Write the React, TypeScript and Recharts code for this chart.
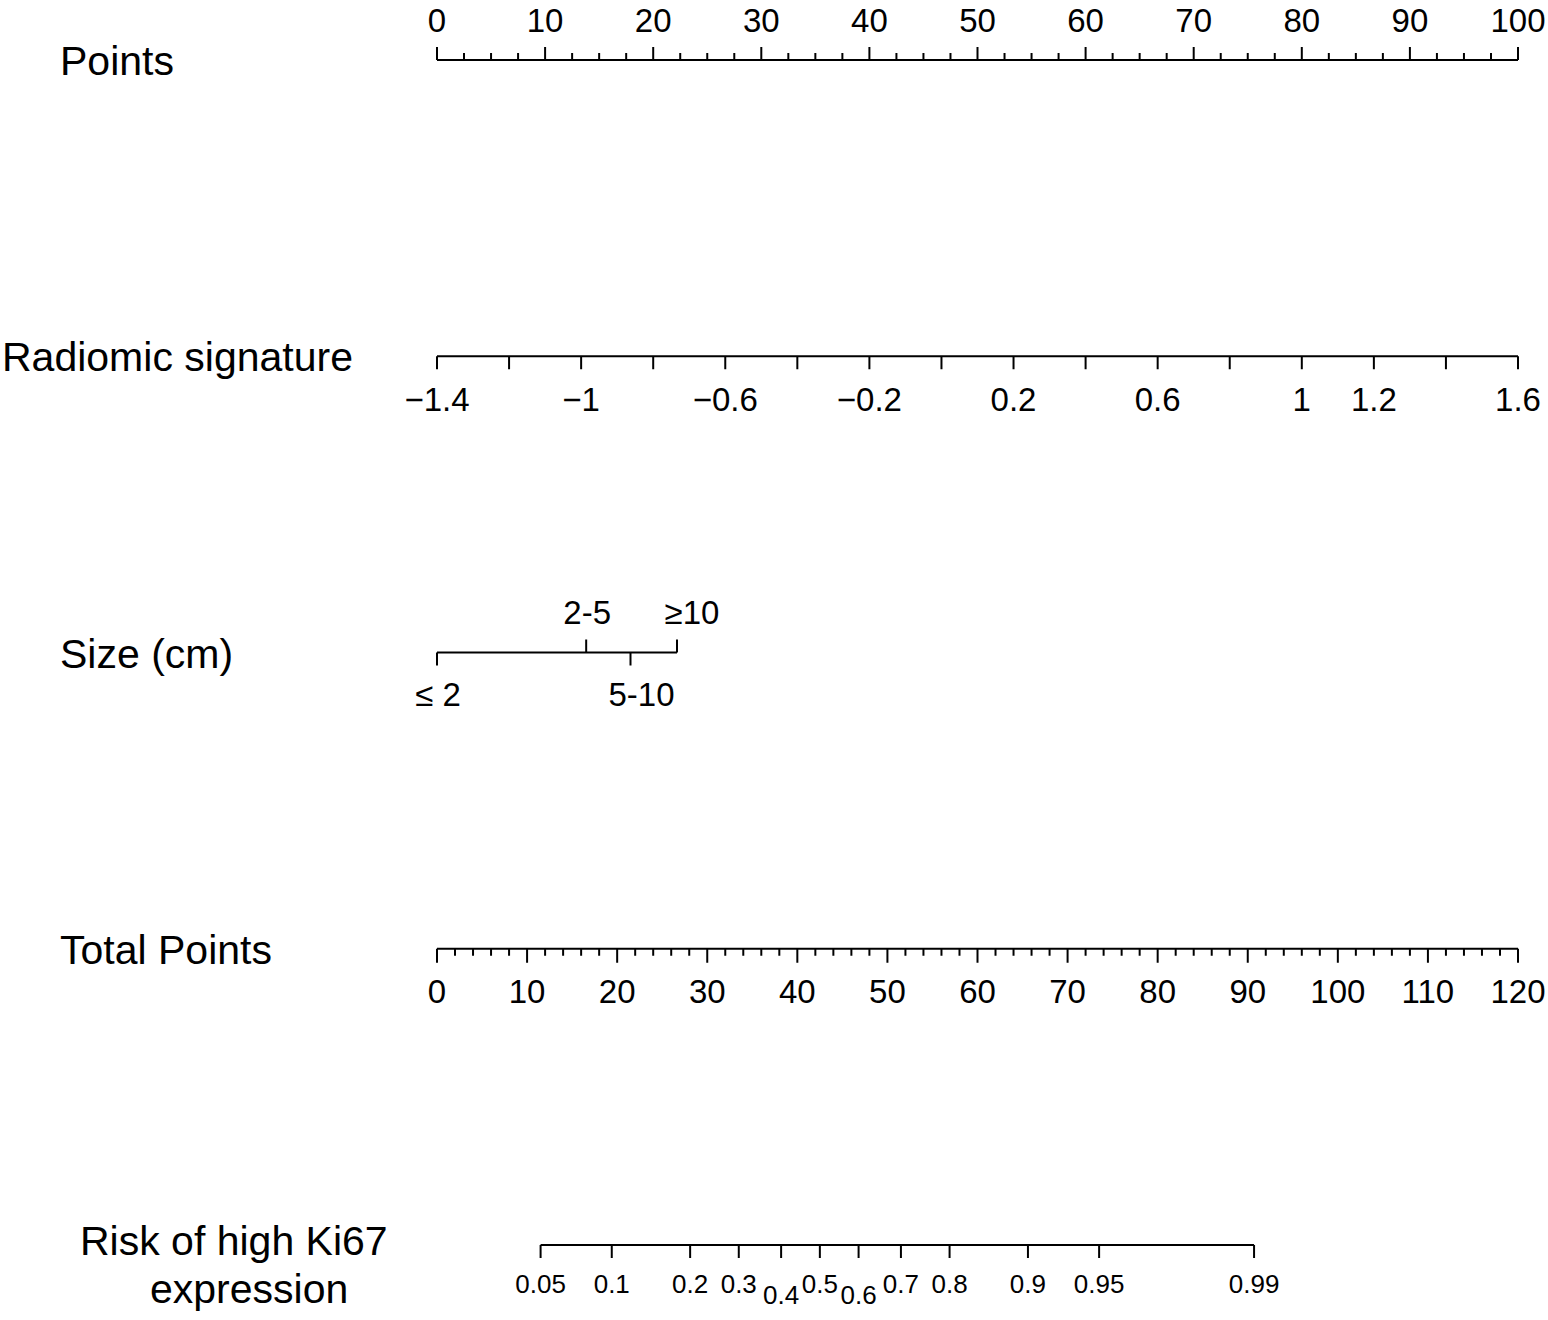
import { ComposedChart, Line, Scatter, XAxis, YAxis } from 'recharts';

// row titles, top to bottom
const rowNames = ['Points', 'Radiomic signature', 'Size (cm)', 'Total Points', 'Risk of high Ki67\nexpression'];

// Points scale (0-100)
const pointsTicks = [
  0, 2.5, 5, 7.5, 10, 12.5, 15, 17.5, 20, 22.5, 25, 27.5, 30, 32.5, 35, 37.5, 40, 42.5, 45, 47.5, 50,
  52.5, 55, 57.5, 60, 62.5, 65, 67.5, 70, 72.5, 75, 77.5, 80, 82.5, 85, 87.5, 90, 92.5, 95, 97.5, 100,
];
const pointsLabels = [0, 10, 20, 30, 40, 50, 60, 70, 80, 90, 100];

// Radiomic signature
const radiomicTicks = [-1.4, -1.2, -1, -0.8, -0.6, -0.4, -0.2, 0, 0.2, 0.4, 0.6, 0.8, 1, 1.2, 1.4, 1.6];
const radiomicLabels = [-1.4, -1, -0.6, -0.2, 0.2, 0.6, 1, 1.2, 1.6];

// Size (cm) levels and the points each one is worth
const sizeLevels = ['≤ 2', '2-5', '5-10', '≥10'];
const sizePoints = [0, 13.8, 17.9, 22.2];

// Total points scale (0-120)
const totalTicks = [
  0, 2, 4, 6, 8, 10, 12, 14, 16, 18, 20, 22, 24, 26, 28, 30, 32, 34, 36, 38, 40, 42, 44, 46, 48, 50,
  52, 54, 56, 58, 60, 62, 64, 66, 68, 70, 72, 74, 76, 78, 80, 82, 84, 86, 88, 90, 92, 94, 96, 98, 100,
  102, 104, 106, 108, 110, 112, 114, 116, 118, 120,
];
const totalLabels = [0, 10, 20, 30, 40, 50, 60, 70, 80, 90, 100, 110, 120];

// Risk of high Ki67 expression, placed on the total points scale
const riskLevels = ['0.05', '0.1', '0.2', '0.3', '0.4', '0.5', '0.6', '0.7', '0.8', '0.9', '0.95', '0.99'];
const riskTotalPoints = [11.5, 19.4, 28.1, 33.5, 38.2, 42.5, 46.8, 51.5, 56.9, 65.6, 73.5, 90.7];
const riskLowered = ['0.4', '0.6'];

const FONT = '"Liberation Sans", Arial, Helvetica, sans-serif';
const TICK_FONT = 33;

const fmt = (v: number) => (v < 0 ? '\u2212' + String(-v) : String(v));

const pointsData = pointsTicks.map((v) => ({ x: v, y: 0, label: pointsLabels.includes(v) ? String(v) : null }));
const radiomicData = radiomicTicks.map((v) => ({ x: v, y: 1, label: radiomicLabels.includes(v) ? fmt(v) : null }));
const sizeData = sizeLevels.map((s, i) => ({ x: sizePoints[i], y: 2, label: s, idx: i }));
const totalData = totalTicks.map((v) => ({ x: v, y: 3, label: totalLabels.includes(v) ? String(v) : null }));
const riskData = riskLevels.map((s, i) => ({ x: riskTotalPoints[i], y: 4, label: s }));

const spanOf = (d: { x: number; y: number }[]) => [
  { x: d[0].x, y: d[0].y },
  { x: d[d.length - 1].x, y: d[d.length - 1].y },
];

const rowLabelX = [[60], [2], [60], [60], [80, 150]];
const rowLabelDy = [[15], [15], [15], [15], [10, 58]];
// small horizontal nudges for the size labels, as in the original plot
const sizeLabelDx = [1, 1, 11, 15];

function RowLabel(props: any) {
  const { y, payload } = props;
  const r = payload.value as number;
  const lines = rowNames[r].split('\n');
  return (
    <g>
      {lines.map((t, i) => (
        <text key={i} x={rowLabelX[r][i]} y={y + rowLabelDy[r][i]} fontSize={41} fontFamily={FONT} fill="#000">
          {t}
        </text>
      ))}
    </g>
  );
}

function PointsTick(props: any) {
  const { cx, cy, payload } = props;
  const major = payload.label !== null;
  return (
    <g>
      <line x1={cx} x2={cx} y1={cy} y2={cy - (major ? 13 : 7)} stroke="#000" strokeWidth={2} />
      {major && (
        <text x={cx} y={cy - 28} textAnchor="middle" fontSize={TICK_FONT} fontFamily={FONT} fill="#000">
          {payload.label}
        </text>
      )}
    </g>
  );
}

function RadiomicTick(props: any) {
  const { cx, cy, payload } = props;
  return (
    <g>
      <line x1={cx} x2={cx} y1={cy} y2={cy + 13} stroke="#000" strokeWidth={2} />
      {payload.label !== null && (
        <text x={cx} y={cy + 55} textAnchor="middle" fontSize={TICK_FONT} fontFamily={FONT} fill="#000">
          {payload.label}
        </text>
      )}
    </g>
  );
}

function SizeTick(props: any) {
  const { cx, cy, payload } = props;
  const up = payload.idx % 2 === 1;
  return (
    <g>
      <line x1={cx} x2={cx} y1={cy} y2={up ? cy - 13 : cy + 13} stroke="#000" strokeWidth={2} />
      <text
        x={cx + sizeLabelDx[payload.idx]}
        y={up ? cy - 29 : cy + 53}
        textAnchor="middle"
        fontSize={TICK_FONT}
        fontFamily={FONT}
        fill="#000"
      >
        {payload.label}
      </text>
    </g>
  );
}

function TotalTick(props: any) {
  const { cx, cy, payload } = props;
  const major = payload.label !== null;
  return (
    <g>
      <line x1={cx} x2={cx} y1={cy} y2={cy + (major ? 14 : 7)} stroke="#000" strokeWidth={2} />
      {major && (
        <text x={cx} y={cy + 54} textAnchor="middle" fontSize={TICK_FONT} fontFamily={FONT} fill="#000">
          {payload.label}
        </text>
      )}
    </g>
  );
}

function RiskTick(props: any) {
  const { cx, cy, payload } = props;
  const low = riskLowered.includes(payload.label);
  return (
    <g>
      <line x1={cx} x2={cx} y1={cy} y2={cy + 13} stroke="#000" strokeWidth={2} />
      <text x={cx} y={cy + (low ? 59 : 48)} textAnchor="middle" fontSize={26} fontFamily={FONT} fill="#000">
        {payload.label}
      </text>
    </g>
  );
}

export default function App() {
  return (
    <div style={{ position: 'absolute', left: 0, top: 0, background: '#fff' }}>
      <ComposedChart width={1548} height={1320} margin={{ top: 60, right: 30, bottom: 75, left: 0 }}>
        <XAxis xAxisId="points" type="number" dataKey="x" domain={[0, 100]} hide />
        <XAxis xAxisId="radiomic" type="number" dataKey="x" domain={[-1.4, 1.6]} hide />
        <XAxis xAxisId="total" type="number" dataKey="x" domain={[0, 120]} hide />
        <YAxis
          type="number"
          dataKey="y"
          domain={[0, 4]}
          ticks={[0, 1, 2, 3, 4]}
          reversed
          width={437}
          axisLine={false}
          tickLine={false}
          tick={RowLabel}
          interval={0}
        />

        <Line xAxisId="points" data={spanOf(pointsData)} dataKey="y" stroke="#000" strokeWidth={2} dot={false} activeDot={false} isAnimationActive={false} />
        <Scatter xAxisId="points" data={pointsData} shape={PointsTick} isAnimationActive={false} />

        <Line xAxisId="radiomic" data={spanOf(radiomicData)} dataKey="y" stroke="#000" strokeWidth={2} dot={false} activeDot={false} isAnimationActive={false} />
        <Scatter xAxisId="radiomic" data={radiomicData} shape={RadiomicTick} isAnimationActive={false} />

        <Line xAxisId="points" data={spanOf(sizeData)} dataKey="y" stroke="#000" strokeWidth={2} dot={false} activeDot={false} isAnimationActive={false} />
        <Scatter xAxisId="points" data={sizeData} shape={SizeTick} isAnimationActive={false} />

        <Line xAxisId="total" data={spanOf(totalData)} dataKey="y" stroke="#000" strokeWidth={2} dot={false} activeDot={false} isAnimationActive={false} />
        <Scatter xAxisId="total" data={totalData} shape={TotalTick} isAnimationActive={false} />

        <Line xAxisId="total" data={spanOf(riskData)} dataKey="y" stroke="#000" strokeWidth={2} dot={false} activeDot={false} isAnimationActive={false} />
        <Scatter xAxisId="total" data={riskData} shape={RiskTick} isAnimationActive={false} />
      </ComposedChart>
    </div>
  );
}
